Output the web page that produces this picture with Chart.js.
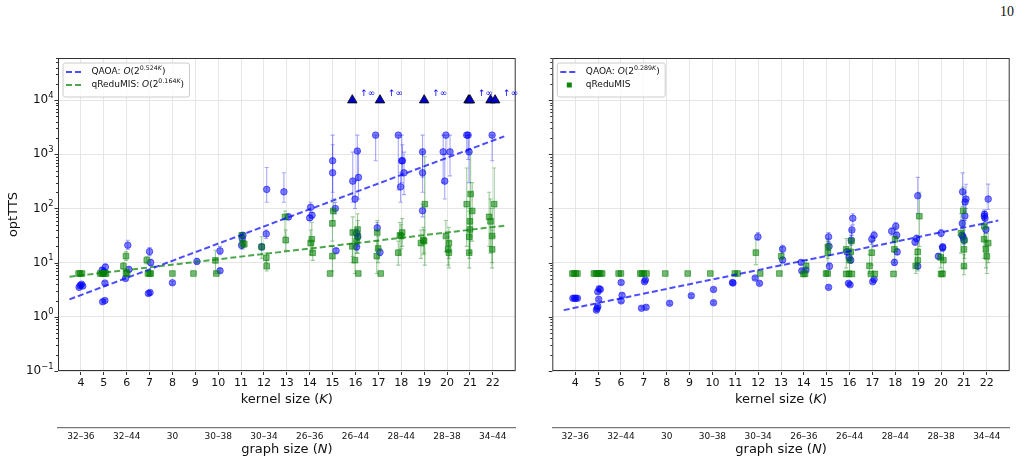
<!DOCTYPE html>
<html lang="en">
<head>
<meta charset="UTF-8" />
<title>optTTS vs kernel size</title>
<script src="https://cdn.jsdelivr.net/npm/chart.js"></script>
<style>
  body { margin: 0; background: #fff; width: 1021px; height: 463px; position: relative; overflow: hidden; }
  .panel { position: absolute; top: 0; }
  #pageNum { position: absolute; right: 7px; top: 4px; font: 14px "Liberation Serif", serif; color: #111; }
</style>
</head>
<body>
  <div id="pageNum">10</div>
  <div class="panel" style="left:0"><canvas id="leftChart" width="530" height="463"></canvas></div>
  <div class="panel" style="left:530px"><canvas id="rightChart" width="491" height="463"></canvas></div>

<script>
const FONT = '"DejaVu Sans", sans-serif';

// axis ticks
const kernelTicks = [4, 5, 6, 7, 8, 9, 10, 11, 12, 13, 14, 15, 16, 17, 18, 19, 20, 21, 22];
const graphSizeK = [4, 6, 8, 10, 12, 14, 16, 18, 20, 22];
const graphSizeLabels = ['32–36', '32–44', '30', '30–38', '30–34', '26–36', '26–44', '28–44', '28–38', '34–44'];

// left panel, rows are [K, optTTS, errLow, errHigh]
const qaoaLeft = [
  [3.92, 3.5, 3.3, 3.8], [3.97, 3.8, 3.5, 4.1], [4.03, 4.0, 3.7, 4.3], [4.08, 3.7, 3.4, 4.0],
  [4.95, 1.9, 1.8, 2.0], [5.05, 2.0, 1.9, 2.1], [5.05, 4.2, 4.0, 4.5], [4.93, 7.3, 6.6, 8.0], [5.07, 8.3, 7.3, 9.4], [5.0, 6.8, 6.2, 7.4],
  [5.95, 5.1, 4.8, 5.5], [6.1, 7.5, 6.8, 8.4], [6.05, 21, 17.5, 26],
  [6.95, 2.7, 2.5, 2.9], [7.02, 2.8, 2.6, 3.0], [7.05, 10, 9, 11.5], [7.0, 16, 13.5, 19],
  [8.0, 4.25, 4.0, 4.5],
  [9.07, 10.5, 9.5, 12],
  [10.08, 16.5, 14, 20], [10.08, 7.1, 6.5, 7.8],
  [11.05, 28, 24, 33], [11.02, 21, 18, 24], [11.08, 32, 28, 36],
  [12.1, 34, 28, 40], [11.9, 19.6, 17, 22], [12.12, 225, 130, 570],
  [12.87, 203, 130, 456], [13.07, 70, 62, 80],
  [14.04, 105, 85, 130], [14.0, 67, 60, 75], [14.1, 75, 67, 85],
  [15.0, 760, 200, 2260], [15.0, 456, 150, 1500], [15.12, 100, 80, 130], [15.15, 16.6, 15, 18.5],
  [15.88, 320, 130, 1100], [15.98, 149, 100, 320], [16.08, 1150, 330, 2260], [16.13, 375, 150, 1150],
  [16.05, 35, 30, 42], [16.05, 19.6, 17, 23], [16.1, 30, 26, 35],
  [16.88, 2260, 760, 2260], [16.95, 44, 38, 55], [17.07, 15.5, 13.5, 18],
  [17.87, 2260, 220, 2260], [18.02, 760, 300, 2260], [18.05, 760, 400, 1500], [18.12, 456, 180, 1100], [17.97, 251, 130, 456],
  [18.93, 1110, 380, 2260], [18.93, 456, 200, 1110], [18.93, 91, 70, 120],
  [19.83, 1110, 300, 2260], [19.9, 320, 150, 1000], [19.95, 2260, 1000, 2260], [20.13, 1110, 400, 2260],
  [20.86, 2260, 1110, 2260], [20.92, 2260, 800, 2260], [20.96, 1110, 300, 2260],
  [21.97, 2260, 760, 2260]
];
const qreduLeft = [
  [3.9, 6.3], [3.97, 6.3], [4.05, 6.3],
  [4.85, 6.3], [4.92, 6.3], [4.97, 6.3], [5.03, 6.3], [5.1, 6.3],
  [5.97, 13.2, 11, 16], [5.86, 8.6, 7.5, 10], [5.97, 6.3], [6.02, 6.3],
  [6.88, 11.1, 9.5, 13], [6.93, 6.3], [7.0, 6.3], [7.05, 6.3],
  [8.0, 6.3], [8.92, 6.3],
  [9.88, 11, 6.3, 17], [9.92, 6.3],
  [11.07, 22.7, 18, 28], [11.14, 22, 19, 26], [11.03, 32, 26, 36],
  [11.9, 19.6, 12, 30], [12.1, 12.3, 10, 15], [12.12, 8.6, 7, 11],
  [12.92, 70, 30, 90], [12.95, 26, 17, 40],
  [14.09, 27, 16, 55], [14.04, 23, 14, 40], [14.13, 15.2, 11, 22],
  [14.99, 53, 25, 93], [15.03, 90, 60, 130], [14.99, 13.2, 7, 20], [14.89, 6.3],
  [15.88, 36, 13, 70], [15.86, 20, 10, 40], [15.98, 11.1, 6.3, 25], [16.09, 41, 20, 80], [16.1, 31, 15, 60], [16.12, 6.3], [16.05, 25, 15, 40],
  [16.95, 36, 18, 60], [16.93, 13.2, 6.3, 25], [16.99, 18.3, 10, 30], [17.1, 6.3],
  [17.94, 32, 14, 55], [18.04, 36, 20, 65], [17.87, 15.3, 9, 25], [18.0, 31, 18, 50],
  [19.03, 120, 9, 900], [18.96, 26, 14, 45], [18.86, 23, 12, 40], [19.0, 25, 15, 40],
  [19.95, 31, 16, 60], [20.08, 23, 12, 45], [20.05, 17.6, 9, 30], [20.08, 15.3, 8, 25],
  [20.86, 120, 20, 560], [21.03, 185, 30, 1100], [21.1, 90, 25, 300], [21.0, 58, 15, 200], [20.97, 30, 12, 90], [20.97, 15.3, 8, 40], [21.0, 41, 15, 100],
  [21.84, 70, 20, 200], [21.9, 58, 15, 150], [22.06, 120, 30, 560], [21.97, 31, 10, 100], [21.97, 17.6, 8, 40]
];
// QAOA runs that never reached the target, drawn at 1e4 with an "↑∞" tag
const infK = [15.86, 17.07, 19.0, 20.94, 21.0, 21.9, 22.1];
const infLabelK = [15.86, 17.07, 19.0, 21.0, 22.1];
const infValue = 1e4;
const fitQaoaLeft = [[3.5, 2.1], [22.5, 2150]];
const fitQreduLeft = [[3.5, 5.5], [22.5, 48]];

// right panel
const qaoaRight = [
  [3.9, 2.2, 2.1, 2.3], [3.97, 2.2, 2.1, 2.3], [4.03, 2.2, 2.1, 2.3], [4.1, 2.2, 2.1, 2.3],
  [4.99, 2.9, 2.7, 3.1], [5.1, 3.2, 3.0, 3.4], [5.03, 2.1, 2.0, 2.2], [4.96, 1.44, 1.35, 1.55], [4.93, 1.33, 1.25, 1.42], [4.99, 1.55, 1.45, 1.65], [5.05, 3.3, 3.1, 3.6],
  [6.01, 4.3, 4.0, 4.6], [6.05, 2.5, 2.35, 2.7], [6.01, 1.97, 1.85, 2.1],
  [7.03, 4.45, 4.2, 4.7], [7.07, 4.8, 4.5, 5.1], [6.9, 1.44, 1.35, 1.55], [7.1, 1.5, 1.4, 1.6],
  [8.13, 1.78, 1.68, 1.9],
  [9.08, 2.45, 2.3, 2.6],
  [10.05, 3.2, 3.0, 3.4], [10.05, 1.82, 1.72, 1.93],
  [10.88, 4.3, 4.1, 4.5], [10.9, 4.2, 4.0, 4.4],
  [11.99, 30, 26, 36], [11.87, 5.2, 4.9, 5.5], [12.06, 4.15, 3.9, 4.4],
  [13.07, 17.8, 15, 21], [13.07, 11.2, 10, 12.5],
  [13.88, 10.1, 9.3, 11], [13.91, 7.1, 6.6, 7.6], [14.09, 7.3, 6.8, 7.8],
  [15.08, 30, 24, 36], [15.1, 20, 17, 24], [15.12, 8.6, 7.5, 9.8], [15.08, 3.5, 3.3, 3.7],
  [16.14, 66, 50, 80], [16.1, 40, 32, 48], [16.07, 26, 21, 32], [15.88, 15.8, 14, 18], [15.98, 12.5, 11, 14], [16.05, 11.1, 10, 12.5], [15.95, 4.15, 3.9, 4.4], [16.02, 3.9, 3.7, 4.2],
  [17.07, 32, 26, 38], [16.97, 27, 22, 32], [17.01, 4.45, 4.2, 4.7], [17.07, 4.9, 4.6, 5.2],
  [17.84, 38, 32, 44], [18.02, 47, 40, 55], [18.06, 32, 28, 37], [18.08, 15.8, 14, 18], [17.96, 10.1, 9, 11.5],
  [18.98, 172, 81, 375], [18.86, 24, 21, 28], [18.93, 28, 24, 32], [18.98, 8.6, 7.8, 9.5],
  [20.0, 35, 30, 41], [20.07, 19.6, 17, 22], [20.07, 18.7, 16.5, 21], [19.88, 13.1, 12, 14.5],
  [20.94, 203, 110, 455], [21.09, 149, 100, 280], [21.05, 132, 90, 200], [21.04, 73, 60, 90], [20.93, 53, 45, 62], [20.92, 32, 28, 37], [20.96, 30, 26, 35], [21.0, 26, 22, 30],
  [22.06, 149, 96, 282], [21.89, 72, 60, 88], [21.92, 66, 55, 80], [21.9, 78, 65, 95], [21.96, 41, 35, 50]
];
const qreduRight = [
  [3.88, 6.3], [3.95, 6.3], [4.02, 6.3], [4.1, 6.3],
  [4.82, 6.3], [4.9, 6.3], [4.97, 6.3], [5.03, 6.3], [5.1, 6.3], [5.18, 6.3],
  [5.9, 6.3], [6.0, 6.3],
  [6.85, 6.3], [6.92, 6.3], [7.0, 6.3], [7.12, 6.3],
  [7.94, 6.3], [8.92, 6.3], [9.91, 6.3], [10.98, 6.3], [11.1, 6.3],
  [12.09, 6.3], [11.9, 15.3, 9.2, 27],
  [12.93, 6.3], [13.01, 13.1, 9, 19],
  [14.1, 8.7, 7, 11], [13.98, 6.2], [14.05, 6.2],
  [14.97, 6.3], [15.04, 6.3], [15.05, 15.2, 9, 25], [15.05, 19.6, 12, 28],
  [15.85, 17.6, 8, 28], [16.05, 15.8, 10, 25], [16.08, 25, 15, 40], [16.0, 11.1, 7, 18], [15.85, 6.2], [15.97, 6.2], [16.1, 6.2],
  [16.97, 15.3, 9, 25], [16.87, 8.7, 6.3, 14], [16.93, 6.2], [17.1, 6.2],
  [17.99, 27, 16, 45], [17.96, 17.6, 10, 30], [17.92, 6.2],
  [19.05, 72, 20, 200], [18.98, 15.8, 9, 28], [18.98, 11.1, 7, 18], [18.89, 8.7, 6.3, 14],
  [19.98, 12.5, 8, 20], [20.1, 11.1, 7, 18], [20.0, 6.2], [20.06, 6.2],
  [20.97, 91, 30, 250], [20.87, 35, 15, 80], [21.0, 17.6, 8, 40], [21.0, 8.6, 6, 14], [21.02, 26, 12, 60],
  [21.89, 47, 20, 90], [21.88, 27, 12, 50], [22.06, 23, 10, 45], [21.96, 17.6, 8, 35], [22.0, 13.1, 6.3, 25]
];
const fitQaoaRight = [[3.5, 1.33], [22.5, 60]];

const BLUE = 'rgba(0,0,255,0.5)';
const GREEN = 'rgba(0,128,0,0.55)';

const toPoints = rows => rows.map(([x, y, lo, hi]) => ({ x, y, lo, hi }));

const isMajor = v => Math.abs(Math.log10(v) - Math.round(Math.log10(v))) < 1e-9;

function logTicks(min, max) {
  const out = [];
  for (let d = -1; d <= 4; d++) {
    for (let m = 1; m <= 9; m++) {
      const v = m * Math.pow(10, d);
      if (v >= min * 0.999 && v <= max) out.push({ value: v });
    }
  }
  return out;
}

function fontFor(style, size) {
  const s = style.includes('s') ? size * 0.7 : size;
  return (style.includes('i') ? 'italic ' : '') + s + 'px ' + FONT;
}

// parts: [text, style], style letters: i = italic, s = superscript
function richWidth(ctx, parts, size) {
  return parts.reduce((w, p) => { ctx.font = fontFor(p[1], size); return w + ctx.measureText(p[0]).width; }, 0);
}

function drawRich(ctx, parts, x, y, size, align) {
  const total = richWidth(ctx, parts, size);
  let cx = align === 'center' ? x - total / 2 : align === 'right' ? x - total : x;
  ctx.textAlign = 'left';
  ctx.textBaseline = 'middle';
  parts.forEach(p => {
    ctx.font = fontFor(p[1], size);
    const dy = p[1].includes('s') ? -size * 0.38 : 0;
    ctx.fillText(p[0], cx, y + dy);
    cx += ctx.measureText(p[0]).width;
  });
}

const decor = {
  id: 'decor',
  beforeDatasetsDraw(chart) {
    const { ctx, scales: { x, y } } = chart;
    ctx.save();
    ctx.lineWidth = 1.1;
    chart.data.datasets.forEach(ds => {
      if (!ds.errColor) return;
      ctx.strokeStyle = ds.errColor;
      ds.data.forEach(p => {
        if (p.lo == null) return;
        const px = x.getPixelForValue(p.x);
        const y1 = y.getPixelForValue(p.lo), y2 = y.getPixelForValue(p.hi);
        ctx.beginPath();
        ctx.moveTo(px, y1); ctx.lineTo(px, y2);
        ctx.moveTo(px - 2, y1); ctx.lineTo(px + 2, y1);
        ctx.moveTo(px - 2, y2); ctx.lineTo(px + 2, y2);
        ctx.stroke();
      });
    });
    ctx.restore();
  },
  afterDraw(chart, args, opts) {
    const { ctx, chartArea: a, scales: { x, y } } = chart;
    ctx.save();

    // frame
    ctx.strokeStyle = '#333';
    ctx.lineWidth = 1;
    ctx.strokeRect(a.left + 0.5, a.top + 0.5, a.right - a.left - 1, a.bottom - a.top - 1);

    // y tick marks, major and minor
    y.ticks.forEach(t => {
      const py = Math.round(y.getPixelForValue(t.value)) + 0.5;
      const len = isMajor(t.value) ? 3.5 : 2;
      ctx.beginPath();
      ctx.moveTo(a.left - len, py); ctx.lineTo(a.left, py);
      ctx.stroke();
    });

    ctx.fillStyle = '#111';
    if (opts.yLabels) {
      y.ticks.filter(t => isMajor(t.value)).forEach(t => {
        const e = Math.round(Math.log10(t.value));
        const exp = e < 0 ? '−' + (-e) : String(e);
        drawRich(ctx, [['10', ''], [exp, 's']], 53.5, y.getPixelForValue(t.value), 12, 'right');
      });
      ctx.save();
      ctx.translate(14, (a.top + a.bottom) / 2);
      ctx.rotate(-Math.PI / 2);
      drawRich(ctx, [['optTTS', '']], 0, 0, 13, 'center');
      ctx.restore();
    }

    const cx = (a.left + a.right) / 2;
    drawRich(ctx, [['kernel size (', ''], ['K', 'i'], [')', '']], cx, 400, 13, 'center');
    drawRich(ctx, [['graph size (', ''], ['N', 'i'], [')', '']], cx, 450, 13, 'center');

    // "↑∞" tags next to the triangles
    if (opts.infTags) {
      ctx.fillStyle = '#0000ff';
      ctx.font = '9px ' + FONT;
      ctx.textAlign = 'left';
      ctx.textBaseline = 'middle';
      opts.infTags.forEach(k => {
        ctx.fillText('↑∞', x.getPixelForValue(k) + 8, y.getPixelForValue(infValue) - 6.5);
      });
    }

    // legend
    const size = 9;
    const lx = a.left + 4.5, ly = a.top + 4.5;
    const textW = Math.max(...opts.legend.map(r => richWidth(ctx, r.parts, size)));
    const w = 29 + textW + 5, h = 8 + opts.legend.length * 13;
    ctx.beginPath();
    ctx.roundRect(lx + 0.5, ly + 0.5, w, h, 2.5);
    ctx.fillStyle = 'rgba(255,255,255,0.8)';
    ctx.fill();
    ctx.strokeStyle = '#cccccc';
    ctx.stroke();
    opts.legend.forEach((r, i) => {
      const ry = ly + 9.5 + i * 13;
      if (r.kind === 'dash') {
        ctx.strokeStyle = r.color;
        ctx.lineWidth = 2;
        ctx.setLineDash([6, 3]);
        ctx.beginPath();
        ctx.moveTo(lx + 3.5, ry); ctx.lineTo(lx + 19.5, ry);
        ctx.stroke();
        ctx.setLineDash([]);
      } else {
        ctx.fillStyle = r.color;
        ctx.fillRect(lx + 10, ry - 2.5, 5, 5);
      }
      ctx.fillStyle = '#111';
      drawRich(ctx, r.parts, lx + 29, ry, size, 'left');
    });
    ctx.restore();
  }
};

function scatterSet(rows, color, errColor, style, radius, order) {
  return {
    data: toPoints(rows), errColor,
    pointStyle: style, pointRadius: radius,
    backgroundColor: color, borderColor: color, borderWidth: 1, order
  };
}

function fitSet(ends, color) {
  return {
    data: ends.map(([x, y]) => ({ x, y })),
    showLine: true, pointRadius: 0, borderColor: color, borderWidth: 2,
    borderDash: [6, 3], order: 0
  };
}

function buildPanel(id, datasets, yWidth, padRight, decorOpts) {
  return new Chart(document.getElementById(id), {
    type: 'scatter',
    data: { datasets },
    options: {
      responsive: false,
      animation: false,
      layout: { padding: { top: 58, right: padRight, left: 0, bottom: 0 } },
      plugins: { legend: { display: false }, tooltip: { enabled: false }, decor: decorOpts },
      scales: {
        x: {
          type: 'linear', min: 3, max: 23, position: 'bottom', weight: 0,
          afterBuildTicks: s => { s.ticks = kernelTicks.map(v => ({ value: v })); },
          afterFit: s => { s.height = 57; },
          grid: { color: '#e6e6e6', tickColor: '#333', tickLength: 4 },
          border: { display: false },
          ticks: { font: { family: FONT, size: 11 }, color: '#111', padding: 2, autoSkip: false, maxRotation: 0 }
        },
        n: {
          type: 'linear', min: 3, max: 23, position: 'bottom', weight: 1,
          afterBuildTicks: s => { s.ticks = graphSizeK.map(v => ({ value: v })); },
          afterFit: s => { s.height = 35; },
          grid: { display: false, drawTicks: false },
          border: { display: true, color: '#777', width: 1.3 },
          ticks: {
            font: { family: FONT, size: 9 }, color: '#111', padding: 3, autoSkip: false, maxRotation: 0,
            callback: v => graphSizeLabels[graphSizeK.indexOf(v)]
          }
        },
        y: {
          type: 'logarithmic', min: 0.1, max: 6e4,
          afterBuildTicks: s => { s.ticks = logTicks(0.1, 6e4); },
          afterFit: s => { s.width = yWidth; },
          grid: { color: c => (c.tick && isMajor(c.tick.value)) ? '#e6e6e6' : 'rgba(0,0,0,0)', drawTicks: false },
          border: { display: false },
          ticks: { display: false }
        }
      }
    },
    plugins: [decor]
  });
}

buildPanel('leftChart', [
  fitSet(fitQaoaLeft, 'rgba(0,0,255,0.7)'),
  fitSet(fitQreduLeft, 'rgba(0,128,0,0.7)'),
  {
    data: infK.map(k => ({ x: k, y: infValue })),
    pointStyle: 'triangle', pointRadius: 5.5,
    backgroundColor: '#0000cc', borderColor: '#000', borderWidth: 0.8, order: 0
  },
  scatterSet(qreduLeft, GREEN, 'rgba(0,128,0,0.4)', 'rect', 4, 1),
  scatterSet(qaoaLeft, BLUE, 'rgba(0,0,255,0.35)', 'circle', 3.3, 2)
], 58, 14.3, {
  yLabels: true,
  infTags: infLabelK,
  legend: [
    { kind: 'dash', color: 'rgba(0,0,255,0.7)', parts: [['QAOA: ', ''], ['O', 'i'], ['(2', ''], ['0.524', 's'], ['K', 'si'], [')', '']] },
    { kind: 'dash', color: 'rgba(0,128,0,0.7)', parts: [['qReduMIS: ', ''], ['O', 'i'], ['(2', ''], ['0.164', 's'], ['K', 'si'], [')', '']] }
  ]
});

buildPanel('rightChart', [
  fitSet(fitQaoaRight, 'rgba(0,0,255,0.7)'),
  scatterSet(qreduRight, GREEN, 'rgba(0,128,0,0.4)', 'rect', 4, 1),
  scatterSet(qaoaRight, BLUE, 'rgba(0,0,255,0.35)', 'circle', 3.3, 2)
], 22.3, 11.3, {
  yLabels: false,
  legend: [
    { kind: 'dash', color: 'rgba(0,0,255,0.7)', parts: [['QAOA: ', ''], ['O', 'i'], ['(2', ''], ['0.289', 's'], ['K', 'si'], [')', '']] },
    { kind: 'square', color: 'rgba(0,128,0,0.95)', parts: [['qReduMIS', '']] }
  ]
});
</script>
</body>
</html>
